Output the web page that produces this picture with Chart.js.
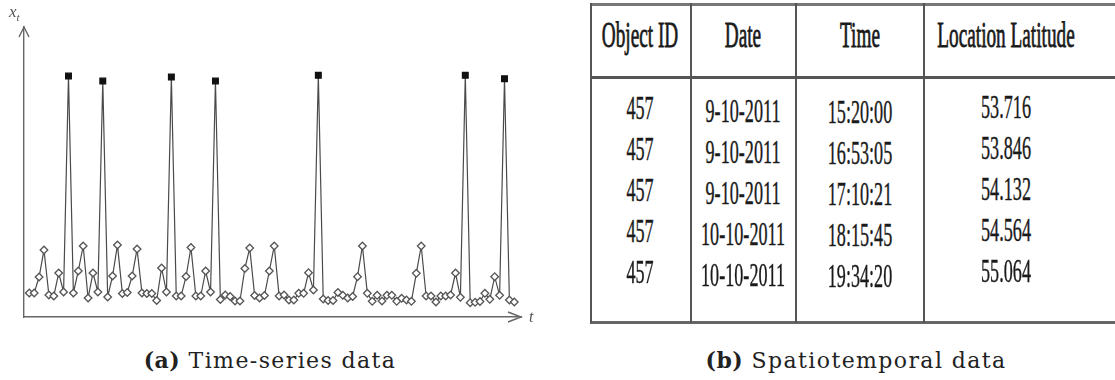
<!DOCTYPE html>
<html lang="en">
<head>
  <meta charset="UTF-8" />
  <title>Time-series and spatiotemporal data</title>
  <script src="https://cdn.jsdelivr.net/npm/chart.js"></script>
  <style>
    body { margin: 0; background: #fff; width: 1115px; height: 380px; overflow: hidden; position: relative; }
    #chartBox { position: absolute; left: 0; top: 0; width: 545px; height: 330px; }
    .lbl { position: absolute; font-family: "Liberation Serif", serif; font-style: italic; color: #555; }
    .cell {
      position: absolute; font-family: "Liberation Serif", serif; color: #1a1a1a; line-height: 1;
      white-space: nowrap; transform: translate(-50%, -50%) scaleX(0.55);
    }
    .head { font-size: 35px; -webkit-text-stroke: 0.8px #1a1a1a; }
    .row { font-size: 33px; -webkit-text-stroke: 0.4px #1a1a1a; }
    .hline, .vline { position: absolute; background: #555; }
    .caption {
      position: absolute; font-family: "DejaVu Serif", serif; font-size: 22px; color: #222;
      letter-spacing: 1.4px; white-space: nowrap; transform: translateX(-50%); top: 347px;
    }
    .caption b { font-weight: bold; letter-spacing: 0.5px; }
  </style>
</head>
<body>
<div id="chartBox"><canvas id="series"></canvas></div>
<div class="lbl" style="left:9px; top:2px; font-size:17px;">x<span style="font-size:11px; position:relative; top:4px;">t</span></div>
<div class="lbl" style="left:529px; top:308px; font-size:16px;">t</div>

<div id="table"></div>

<div class="caption" style="left:270px;"><b>(a)</b> Time-series data</div>
<div class="caption" style="left:856px;"><b>(b)</b> Spatiotemporal data</div>

<script>
  // (a) time series, one value per time step, spikes are the outliers
  const seriesValues = [
    24, 24, 40, 67, 22, 21, 44, 25, 241, 24,
    46, 71, 19, 44, 25, 236, 20, 41, 72, 23.5,
    24.5, 41, 68, 24, 23.5, 23.5, 16.5, 49, 25, 240,
    21, 21, 40.5, 69.5, 21, 21, 46, 25, 236, 17.5,
    22, 20.5, 16, 16, 48.5, 69, 21.5, 19, 21.5, 46,
    71, 21, 22, 17, 17, 23.7, 23.7, 44.3, 27, 241.7,
    18, 16.5, 16.5, 24.5, 21.7, 19, 20.5, 40.3, 71, 23.7,
    15.7, 21.7, 16, 21.7, 21.7, 15.7, 18.7, 17, 15.7, 43.7,
    71, 21, 21, 15, 21, 21, 22, 44, 19.7, 241.7,
    14.3, 14.7, 15.5, 23.7, 17.7, 40.3, 21.7, 238.3, 17, 15
  ];
  const timeSteps = seriesValues.map((v, i) => i + 1);
  const outlierLimit = 150;

  // (b) spatiotemporal table
  const tableHeaders = ["Object ID", "Date", "Time", "Location Latitude"];
  const objectIds = ["457", "457", "457", "457", "457"];
  const dates = ["9-10-2011", "9-10-2011", "9-10-2011", "10-10-2011", "10-10-2011"];
  const times = ["15:20:00", "16:53:05", "17:10:21", "18:15:45", "19:34:20"];
  const latitudes = ["53.716", "53.846", "54.132", "54.564", "55.064"];

  const arrows = {
    id: "arrows",
    afterDraw(chart) {
      const { ctx, chartArea: a } = chart;
      ctx.save();
      ctx.strokeStyle = "#666";
      ctx.lineWidth = 1.4;
      ctx.beginPath();
      ctx.moveTo(a.left - 5, a.top + 10); ctx.lineTo(a.left, a.top); ctx.lineTo(a.left + 5, a.top + 10);
      ctx.moveTo(a.right - 13, a.bottom - 5); ctx.lineTo(a.right, a.bottom); ctx.lineTo(a.right - 13, a.bottom + 5);
      ctx.stroke();
      ctx.restore();
    }
  };

  new Chart(document.getElementById("series"), {
    type: "line",
    data: {
      datasets: [{
        data: timeSteps.map((t, i) => ({ x: t, y: seriesValues[i] })),
        borderColor: "#4a4a4a",
        borderWidth: 1.2,
        tension: 0,
        pointStyle: c => c.raw && c.raw.y > outlierLimit ? "rect" : "rectRot",
        pointRadius: c => c.raw && c.raw.y > outlierLimit ? 4 : 3.8,
        pointBackgroundColor: c => c.raw && c.raw.y > outlierLimit ? "#111" : "#fff",
        pointBorderColor: c => c.raw && c.raw.y > outlierLimit ? "#111" : "#555",
        pointBorderWidth: 1.3
      }]
    },
    options: {
      responsive: true,
      maintainAspectRatio: false,
      animation: false,
      layout: { padding: { left: 24, top: 27, right: 24, bottom: 13 } },
      plugins: { legend: { display: false }, tooltip: { enabled: false } },
      scales: {
        x: {
          type: "linear", min: -0.08, max: 101.37,
          grid: { display: false, drawTicks: false },
          ticks: { display: false },
          border: { display: true, color: "#666", width: 1.4 }
        },
        y: {
          min: 0, max: 290,
          grid: { display: false, drawTicks: false },
          ticks: { display: false },
          border: { display: true, color: "#666", width: 1.4 }
        }
      }
    },
    plugins: [arrows]
  });

  // table layout
  const colX = [640, 743, 860, 1006];
  const rowY = [108, 149, 190, 231, 272];
  const colShift = [0, 3, 4, -1];
  const table = document.getElementById("table");
  function add(cls, text, x, y) {
    const d = document.createElement("div");
    d.className = "cell " + cls;
    d.textContent = text;
    d.style.left = x + "px";
    d.style.top = y + "px";
    table.appendChild(d);
  }
  tableHeaders.forEach((h, c) => add("head", h, colX[c], 35));
  const cols = [objectIds, dates, times, latitudes];
  cols.forEach((col, c) => col.forEach((v, r) => add("row", v, colX[c], rowY[r] + colShift[c])));

  function line(cls, style) {
    const d = document.createElement("div");
    d.className = cls;
    Object.assign(d.style, style);
    table.appendChild(d);
  }
  line("hline", { left: "590px", width: "525px", top: "3px", height: "3px", background: "#777" });
  line("hline", { left: "590px", width: "525px", top: "76px", height: "3px" });
  line("hline", { left: "590px", width: "525px", top: "321px", height: "3px", background: "#666" });
  [590, 690, 795, 923].forEach(x => line("vline", { left: x + "px", width: "2px", top: "3px", height: "320px" }));
</script>
</body>
</html>
